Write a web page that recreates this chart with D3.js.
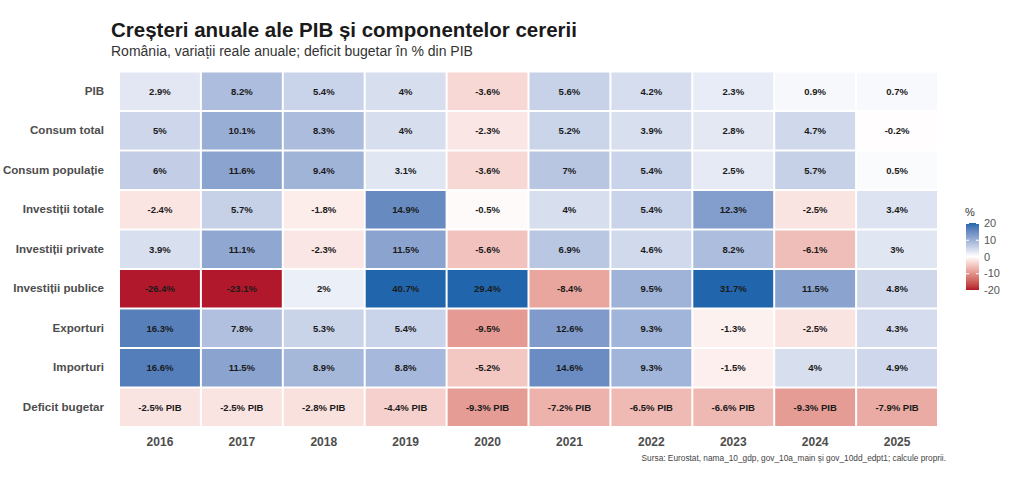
<!DOCTYPE html>
<html><head><meta charset="utf-8">
<script src="https://cdn.jsdelivr.net/npm/d3@7"></script>
<style>
html,body{margin:0;padding:0;background:#fff;}
svg{display:block;font-family:"Liberation Sans",Arial,sans-serif;}
</style></head>
<body>
<svg id="chart" width="1024" height="490"></svg>
<script>
const years = ["2016","2017","2018","2019","2020","2021","2022","2023","2024","2025"];
const rowsLabels = ["PIB","Consum total","Consum populație","Investiții totale","Investiții private","Investiții publice","Exporturi","Importuri","Deficit bugetar"];
const pib = [2.9, 8.2, 5.4, 4, -3.6, 5.6, 4.2, 2.3, 0.9, 0.7];
const consumTotal = [5, 10.1, 8.3, 4, -2.3, 5.2, 3.9, 2.8, 4.7, -0.2];
const consumPopulatie = [6, 11.6, 9.4, 3.1, -3.6, 7, 5.4, 2.5, 5.7, 0.5];
const investitiiTotale = [-2.4, 5.7, -1.8, 14.9, -0.5, 4, 5.4, 12.3, -2.5, 3.4];
const investitiiPrivate = [3.9, 11.1, -2.3, 11.5, -5.6, 6.9, 4.6, 8.2, -6.1, 3];
const investitiiPublice = [-26.4, -23.1, 2, 40.7, 29.4, -8.4, 9.5, 31.7, 11.5, 4.8];
const exporturi = [16.3, 7.8, 5.3, 5.4, -9.5, 12.6, 9.3, -1.3, -2.5, 4.3];
const importuri = [16.6, 11.5, 8.9, 8.8, -5.2, 14.6, 9.3, -1.5, 4, 4.9];
const deficitBugetar = [-2.5, -2.5, -2.8, -4.4, -9.3, -7.2, -6.5, -6.6, -9.3, -7.9];
const legendTicks = [20, 10, 0, -10, -20];

const seriesList = [pib, consumTotal, consumPopulatie, investitiiTotale, investitiiPrivate, investitiiPublice, exporturi, importuri, deficitBugetar];
const cells = [];
rowsLabels.forEach((r, i) => {
  years.forEach((y, j) => {
    const v = seriesList[i][j];
    cells.push({row: r, year: y, value: v, label: r === "Deficit bugetar" ? v + "% PIB" : v + "%"});
  });
});

const svg = d3.select("#chart");
const x = d3.scaleBand().domain(years).range([119, 938]).paddingInner(0).paddingOuter(0);
const y = d3.scaleBand().domain(rowsLabels).range([71.5, 427]);

const low = "#b2182b", mid = "#ffffff", high = "#2166ac";
const posI = d3.interpolateLab(mid, high), negI = d3.interpolateLab(mid, low);
const color = v => {
  const c = Math.max(-20, Math.min(20, v));
  return c >= 0 ? posI(c / 20) : negI(-c / 20);
};

// Title
svg.append("text").attr("x", 111).attr("y", 37).attr("font-size", 20.5).attr("font-weight", "bold").attr("fill", "#1a1a1a")
  .text("Creșteri anuale ale PIB și componentelor cererii");
svg.append("text").attr("x", 111).attr("y", 56).attr("font-size", 14).attr("fill", "#333")
  .text("România, variații reale anuale; deficit bugetar în % din PIB");

// Tiles
const g = svg.append("g");
g.selectAll("rect").data(cells).join("rect")
  .attr("x", d => x(d.year) + 1).attr("y", d => y(d.row) + 1)
  .attr("width", x.bandwidth() - 2).attr("height", y.bandwidth() - 2)
  .attr("fill", d => color(d.value));
g.selectAll("text.v").data(cells).join("text").attr("class", "v")
  .attr("x", d => x(d.year) + x.bandwidth() / 2).attr("y", d => y(d.row) + y.bandwidth() / 2)
  .attr("dy", "0.35em").attr("text-anchor", "middle").attr("font-size", 9.5).attr("font-weight", "bold")
  .attr("fill", "#1a1a1a").text(d => d.label);

// Axes
const xAxis = svg.append("g").attr("transform", "translate(0,427)").call(d3.axisBottom(x).tickSize(0).tickPadding(10));
xAxis.select(".domain").remove();
xAxis.selectAll("text").attr("font-size", 12).attr("font-weight", "bold").attr("fill", "#4d4d4d").attr("font-family", "Liberation Sans, Arial, sans-serif");
const yAxis = svg.append("g").attr("transform", "translate(119,0)").call(d3.axisLeft(y).tickSize(0).tickPadding(15));
yAxis.select(".domain").remove();
yAxis.selectAll("text").attr("font-size", 11.6).attr("font-weight", "bold").attr("fill", "#4d4d4d").attr("font-family", "Liberation Sans, Arial, sans-serif");

// Legend
const ly = d3.scaleLinear().domain([20, -20]).range([223, 290]);
const defs = svg.append("defs");
const grad = defs.append("linearGradient").attr("id", "lg").attr("x1", 0).attr("x2", 0).attr("y1", 0).attr("y2", 1);
d3.range(0, 21).forEach(i => {
  const v = 20 - i * 2;
  grad.append("stop").attr("offset", (i / 20) * 100 + "%").attr("stop-color", color(v));
});
svg.append("rect").attr("x", 966).attr("y", ly(20)).attr("width", 13).attr("height", ly(-20) - ly(20)).attr("fill", "url(#lg)");
const lAxis = svg.append("g").attr("transform", "translate(979,0)").call(d3.axisRight(ly).tickValues(legendTicks).tickFormat(d => String(d)).tickSize(0).tickPadding(5));
lAxis.select(".domain").remove();
lAxis.selectAll("text").attr("font-size", 11).attr("fill", "#555").attr("font-family", "Liberation Sans, Arial, sans-serif");
lAxis.selectAll(".tick").append("line").attr("x1", -13).attr("x2", -10).attr("stroke", "#fff");
lAxis.selectAll(".tick").append("line").attr("x1", -3).attr("x2", 0).attr("stroke", "#fff");
svg.append("text").attr("x", 965).attr("y", 216).attr("font-size", 11).attr("fill", "#333").text("%");

// Caption
svg.append("text").attr("x", 946).attr("y", 461).attr("text-anchor", "end").attr("font-size", 8.3).attr("fill", "#444")
  .text("Sursa: Eurostat, nama_10_gdp, gov_10a_main și gov_10dd_edpt1; calcule proprii.");
</script>
</body></html>
